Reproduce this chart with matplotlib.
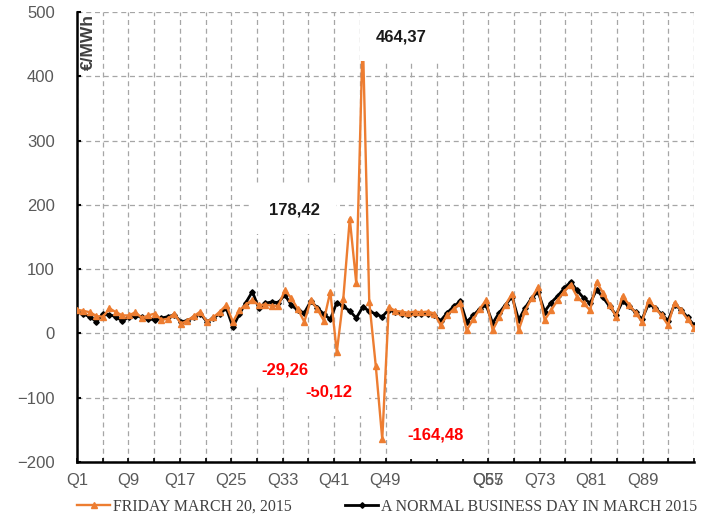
import numpy as np
import matplotlib.pyplot as plt
from matplotlib.lines import Line2D
from matplotlib.transforms import blended_transform_factory

# quarter-hour index 1..96
quarters = np.arange(1, 97)

friday = [
    37, 35, 33, 27, 26, 39, 33, 28, 28, 33,
    24, 28, 31, 21, 23, 31, 15, 20, 27, 34,
    18, 25, 34, 44, 18, 36, 45, 52, 44, 45,
    43, 43, 67, 55, 38, 18, 52, 38, 20, 65,
    -29.26, 54, 178.42, 78, 464.37, 49, -50.12, -164.48, 41, 35,
    34, 32, 34, 33, 34, 31, 13, 28, 38, 47,
    5, 22, 38, 52, 5, 25, 45, 62, 5, 35,
    55, 72, 21, 36, 52, 65, 76, 57, 47, 36,
    80, 63, 45, 26, 58, 45, 32, 18, 52, 40,
    28, 13, 48, 36, 22, 9,
]

normal_day = [
    34, 30, 26, 18, 31, 29, 26, 19, 26, 27,
    26, 23, 21, 24, 26, 29, 18, 20, 25, 31,
    18, 24, 31, 39, 10, 30, 48, 65, 39, 47,
    49, 48, 60, 44, 36, 32, 50, 40, 30, 22,
    48, 42, 35, 24, 41, 35, 30, 26, 37, 33,
    30, 29, 31, 30, 31, 28, 20, 32, 42, 50,
    18, 28, 38, 44, 16, 32, 45, 57, 21, 40,
    55, 65, 34, 48, 58, 70, 80, 67, 55, 47,
    68, 56, 42, 29, 50, 42, 33, 22, 46, 40,
    30, 20, 45, 37, 25, 13,
]

# (quarter, text, colour, offset in points, box pad)
labels = [
    (47, "-50,12", "#ff0000", (-34, -19), 1.0),
    (41, "-29,26", "#ff0000", (-37, -12.5), 0.6),
    (43, "178,42", "#1a1a1a", (-40, 6.5), 1.0),
    (45, "464,37", "#1a1a1a", (28, -1.5), 1.0),
    (48, "-164,48", "#ff0000", (38.5, 3), 1.0),
]

orange = "#ED7D31"
grey_txt = "#595959"

fig = plt.figure(figsize=(7.08, 5.17), dpi=100)
ax = fig.add_axes([77 / 708, 55 / 517, 617 / 708, 450 / 517])

ax.plot(quarters, normal_day, color="black", lw=2.0, marker="D", ms=2.8, zorder=3)
ax.plot(quarters, friday, color=orange, lw=1.7, marker="^", ms=4.5, zorder=4)

ax.set_xlim(1, 96)
ax.set_ylim(-200, 500)
ax.set_yticks(np.arange(-200, 501, 100))

# 24 gridline intervals across the category axis, a label on every second one
grid_x = 1 + np.arange(25) * 95 / 24
tick_txt = []
for k in range(25):
    if k % 2 == 0 and k not in (14, 24):
        tick_txt.append(f"Q{1 + 4 * k}")
    else:
        tick_txt.append("")
ax.set_xticks(grid_x)
ax.set_xticklabels(tick_txt)
# Q57 label ends up on top of Q65 in the original
trans = blended_transform_factory(ax.transData, ax.transAxes)
ax.annotate("Q57", xy=(grid_x[16], 0), xycoords=trans, xytext=(0, -8),
            textcoords="offset points", ha="center", va="top",
            fontsize=12, color=grey_txt, family="Liberation Sans")

for lab in ax.get_xticklabels() + ax.get_yticklabels():
    lab.set_family("Liberation Sans")
    lab.set_fontsize(12)
    lab.set_color(grey_txt)

ax.tick_params(axis="x", direction="in", length=3, width=1.2, pad=8, color="black")
ax.tick_params(axis="y", direction="in", length=3, width=1.5, pad=16, color="black")

ax.grid(True, color="#a6a6a6", lw=0.9, linestyle=(0, (4, 3)))
ax.set_axisbelow(True)

for side in ("top", "right"):
    ax.spines[side].set_visible(False)
for side in ("left", "bottom"):
    ax.spines[side].set_linewidth(1.8)
    ax.spines[side].set_color("black")

ax.text(0.018, 0.995, "€/MWh", transform=ax.transAxes, rotation=90,
        ha="center", va="top", fontsize=12.5, fontweight="bold",
        color="#404040", family="Liberation Sans")

for q, txt, col, off, pad in labels:
    ax.annotate(txt, xy=(q, friday[q - 1]), xytext=off, textcoords="offset points",
                ha="center", va="center", fontsize=12, fontweight="bold",
                color=col, family="Liberation Sans", zorder=6,
                bbox=dict(boxstyle=f"square,pad={pad}", fc="white", ec="none"))

handles = [
    Line2D([], [], color=orange, lw=1.7, marker="^", ms=4.5),
    Line2D([], [], color="black", lw=2.0, marker="D", ms=2.8),
]
fig.legend(handles, ["FRIDAY MARCH 20, 2015", "A NORMAL BUSINESS DAY IN MARCH 2015"],
           loc="center left", bbox_to_anchor=(77 / 708, 10 / 517), ncol=2,
           frameon=False, borderpad=0, borderaxespad=0, numpoints=1,
           handlelength=2.1, handletextpad=0.15, columnspacing=3.4,
           prop={"family": "Liberation Serif", "size": 11.4}, labelcolor="#404040")

fig.savefig("out.png", dpi=100)
